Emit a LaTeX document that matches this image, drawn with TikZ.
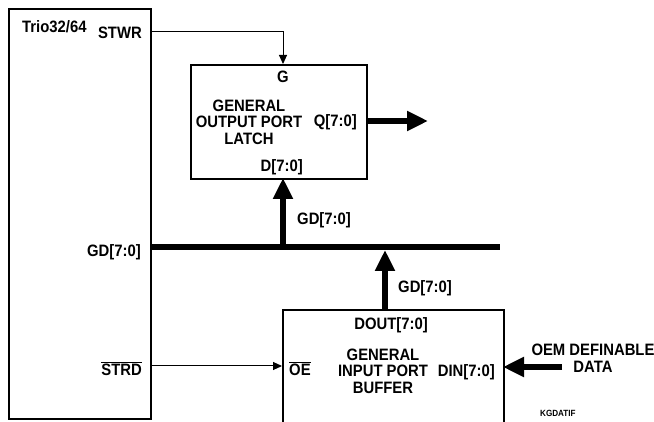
\documentclass[tikz,border=0pt]{standalone}
\usepackage{fontspec}
\setmainfont{Liberation Sans}[FakeStretch=0.9]
\usetikzlibrary{arrows.meta}
\tikzset{
  chip/.style={draw, line width=1.8pt, inner sep=0pt, anchor=north west},
  lbl/.style={font=\fontsize{16.5}{16.5}\selectfont\bfseries, inner sep=0pt},
  sig/.style={line width=1pt, -{Triangle[length=9pt,width=8pt]}},
  fat/.style={line width=6.5pt, -{Triangle[length=21pt,width=19pt]}},
  bus/.style={line width=6.5pt}
}
\begin{document}
\begin{tikzpicture}[x=1pt, y=-1pt]
  \path[use as bounding box, clip] (0,0) rectangle (654,422);
  \fill[white] (0,0) rectangle (654,422);
  % blocks
  \node[chip, minimum width=142pt, minimum height=410pt] (trio) at (8,8) {};
  \node[chip, minimum width=176pt, minimum height=114pt] (latch) at (190,64) {};
  \node[chip, minimum width=221pt, minimum height=130pt] (buf) at (282,309) {};
  % pins
  \coordinate (stwr) at (150,32); \coordinate (g) at (283,64);
  \coordinate (strd) at (150,366); \coordinate (oe) at (282,366);
  \coordinate (busL) at (150,247); \coordinate (busR) at (500,247);
  \coordinate (busA) at (283,247); \coordinate (d) at (283,178);
  \coordinate (dout) at (385,309); \coordinate (busB) at (385,250);
  \coordinate (q) at (366,121); \coordinate (qout) at (428,121);
  \coordinate (oem) at (562,367); \coordinate (din) at (503,367);
  % connectors
  \draw[sig] (stwr) -| (g);
  \draw[sig] (strd) -- (oe);
  \draw[bus] (busL) -- (busR);
  \draw[fat] (busA) -- (d);
  \draw[fat] (dout) -- (busB);
  \draw[fat] (q) -- (qout);
  \draw[fat] (oem) -- (din);
  % Trio32/64
  \node[lbl, anchor=base west] (name) at (22,33) {Trio32/64};
  \node[lbl, anchor=base east] (stwrl) at (142,39) {STWR};
  \node[lbl, anchor=base east] (gdl) at (141,257) {GD[7:0]};
  \node[lbl, anchor=base east] (strdl) at (142,375) {$\overline{\hbox{STRD}}$};
  % latch
  \node[lbl, anchor=base] (gl) at (283,83) {G};
  \node[lbl, align=center] (latchl) at (249,122) {GENERAL\\OUTPUT PORT\\LATCH};
  \node[lbl, anchor=base east] (ql) at (357,127) {Q[7:0]};
  \node[lbl, anchor=base east] (dl) at (303,172) {D[7:0]};
  \node[lbl, anchor=base west] (gda) at (297,225) {GD[7:0]};
  \node[lbl, anchor=base west] (gdb) at (398,293) {GD[7:0]};
  % buffer
  \node[lbl, anchor=base] (doutl) at (391,330) {DOUT[7:0]};
  \node[lbl, anchor=base west] (oel) at (289,375) {$\overline{\hbox{OE}}$};
  \node[lbl, align=center] (bufl) at (383,371) {GENERAL\\INPUT PORT\\BUFFER};
  \node[lbl, anchor=base east] (dinl) at (495,377) {DIN[7:0]};
  \node[lbl, align=center] (oeml) at (593,358) {OEM DEFINABLE\\DATA};
  \node[font=\fontsize{9}{10}\selectfont\bfseries, inner sep=0pt, anchor=base west] (tag) at (540,417) {KGDATIF};
\end{tikzpicture}
\end{document}
